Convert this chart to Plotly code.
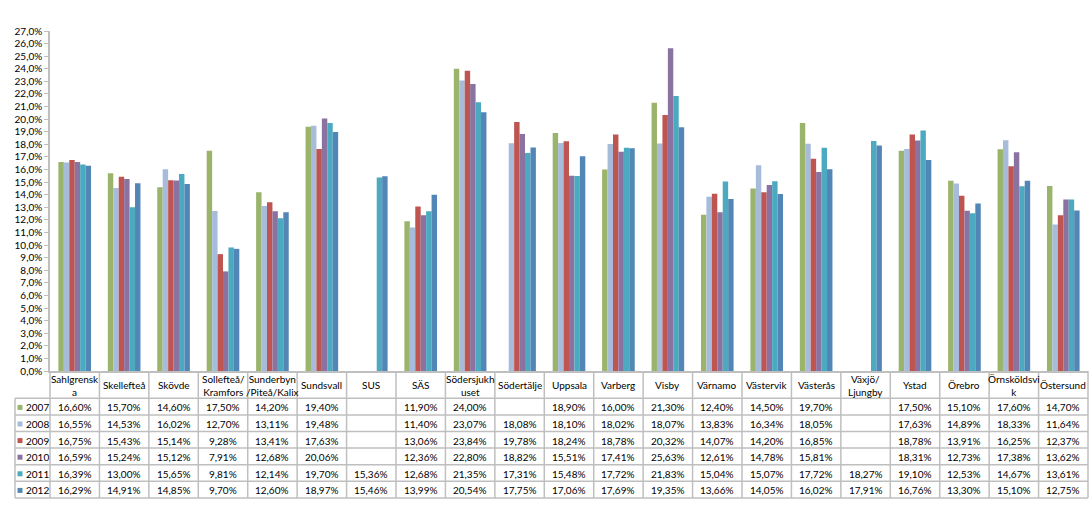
import plotly.graph_objects as go

categories = ["Sahlgrenska", "Skellefteå", "Skövde", "Sollefteå/Kramfors", "Sunderbyn/Piteå/Kalix",
              "Sundsvall", "SUS", "SÄS", "Södersjukhuset", "Södertälje", "Uppsala", "Varberg", "Visby",
              "Värnamo", "Västervik", "Västerås", "Växjö/Ljungby", "Ystad", "Örebro", "Örnsköldsvik", "Östersund"]
header_labels = ["Sahlgrensk<br>a", "Skellefteå", "Skövde", "Sollefteå/<br>Kramfors", "Sunderbyn<br>/Piteå/Kalix",
                 "Sundsvall", "SUS", "SÄS", "Södersjukh<br>uset", "Södertälje", "Uppsala", "Varberg", "Visby",
                 "Värnamo", "Västervik", "Västerås", "Växjö/<br>Ljungby", "Ystad", "Örebro", "Örnsköldsvi<br>k", "Östersund"]
years = ["2007", "2008", "2009", "2010", "2011", "2012"]

v2007 = [16.60, 15.70, 14.60, 17.50, 14.20, 19.40, None, 11.90, 24.00, None, 18.90, 16.00, 21.30, 12.40, 14.50, 19.70, None, 17.50, 15.10, 17.60, 14.70]
v2008 = [16.55, 14.53, 16.02, 12.70, 13.11, 19.48, None, 11.40, 23.07, 18.08, 18.10, 18.02, 18.07, 13.83, 16.34, 18.05, None, 17.63, 14.89, 18.33, 11.64]
v2009 = [16.75, 15.43, 15.14, 9.28, 13.41, 17.63, None, 13.06, 23.84, 19.78, 18.24, 18.78, 20.32, 14.07, 14.20, 16.85, None, 18.78, 13.91, 16.25, 12.37]
v2010 = [16.59, 15.24, 15.12, 7.91, 12.68, 20.06, None, 12.36, 22.80, 18.82, 15.51, 17.41, 25.63, 12.61, 14.78, 15.81, None, 18.31, 12.73, 17.38, 13.62]
v2011 = [16.39, 13.00, 15.65, 9.81, 12.14, 19.70, 15.36, 12.68, 21.35, 17.31, 15.48, 17.72, 21.83, 15.04, 15.07, 17.72, 18.27, 19.10, 12.53, 14.67, 13.61]
v2012 = [16.29, 14.91, 14.85, 9.70, 12.60, 18.97, 15.46, 13.99, 20.54, 17.75, 17.06, 17.69, 19.35, 13.66, 14.05, 16.02, 17.91, 16.76, 13.30, 15.10, 12.75]

series = [v2007, v2008, v2009, v2010, v2011, v2012]
colors = ["#9BB46B", "#A7BBDA", "#BE5551", "#8A72A1", "#4BAABF", "#5286B6"]

FONT = "Lato"
GRID = "#BFBFBF"

W, H = 1092, 514
T, B = 31, 143
PLOT_BOTTOM = H - B
PLOT_H = H - T - B
L, R = 50, 4
PLOT_W = W - L - R


def py(pix):
    return (PLOT_BOTTOM - pix) / PLOT_H


def px(pix):
    return (pix - L) / PLOT_W


fig = go.Figure()
for yr, vals, col in zip(years, series, colors):
    fig.add_trace(go.Bar(name=yr, x=categories, y=vals, marker=dict(color=col, line=dict(width=0)),
                         showlegend=False))

shapes = []
annotations = []

header_top = PLOT_BOTTOM
header_bot = 398.3
row_h = 16.6
n = len(categories)
table_bot = header_bot + row_h * len(years)
leg_left = 15

# horizontal table lines
for k in range(len(years) + 1):
    yy = header_bot + k * row_h
    shapes.append(dict(type="line", xref="paper", yref="paper", x0=px(leg_left), x1=1,
                       y0=py(yy), y1=py(yy), line=dict(color=GRID, width=1.5)))
# vertical table lines
for i in range(n + 1):
    shapes.append(dict(type="line", xref="paper", yref="paper", x0=i / n, x1=i / n,
                       y0=py(header_top), y1=py(table_bot), line=dict(color=GRID, width=1.5)))
shapes.append(dict(type="line", xref="paper", yref="paper", x0=px(leg_left), x1=px(leg_left),
                   y0=py(header_bot), y1=py(table_bot), line=dict(color=GRID, width=1.5)))

# header labels
for i, lab in enumerate(header_labels):
    annotations.append(dict(x=(i + 0.5) / n, y=py((header_top + header_bot) / 2 + 0.5), xref="paper",
                            yref="paper", text=lab, showarrow=False, xanchor="center", yanchor="middle",
                            font=dict(family=FONT, size=10, color="black"), align="center"))

# rows
for k, (yr, vals, col) in enumerate(zip(years, series, colors)):
    yc = header_bot + (k + 0.5) * row_h + 0.8
    shapes.append(dict(type="rect", xref="paper", yref="paper", x0=px(17.5), x1=px(22.5),
                       y0=py(yc + 2.5), y1=py(yc - 2.5), fillcolor=col, line=dict(width=0)))
    annotations.append(dict(x=px(23.5), y=py(yc), xref="paper", yref="paper", text=yr, showarrow=False,
                            xanchor="left", yanchor="middle", font=dict(family=FONT, size=10, color="black")))
    for i, v in enumerate(vals):
        if v is None:
            continue
        txt = f"{v:.2f}".replace(".", ",") + "%"
        annotations.append(dict(x=(i + 0.5) / n, y=py(yc), xref="paper", yref="paper", text=txt,
                                showarrow=False, xanchor="center", yanchor="middle",
                                font=dict(family=FONT, size=10, color="black")))

fig.update_layout(
    width=W, height=H,
    margin=dict(l=L, r=R, t=T, b=B),
    barmode="group", bargap=0.34, bargroupgap=0,
    plot_bgcolor="white", paper_bgcolor="white",
    separators=", ",
    font=dict(family=FONT, size=10, color="black"),
    shapes=shapes, annotations=annotations,
    xaxis=dict(type="category", range=[-0.5, n - 0.5], showticklabels=False, ticks="",
               showline=True, linecolor=GRID, linewidth=1.5, showgrid=False, zeroline=False),
    yaxis=dict(range=[0, 27], dtick=1, tickformat=".1f", ticksuffix="%", showgrid=False,
               showline=True, linecolor=GRID, linewidth=1.5, ticks="outside", ticklen=4,
               tickcolor=GRID, zeroline=False, tickfont=dict(family=FONT, size=10, color="black")),
)

fig.write_html("out.html", config={"displayModeBar": False},
               post_script="document.body.style.margin='0';document.body.style.overflow='hidden';")
